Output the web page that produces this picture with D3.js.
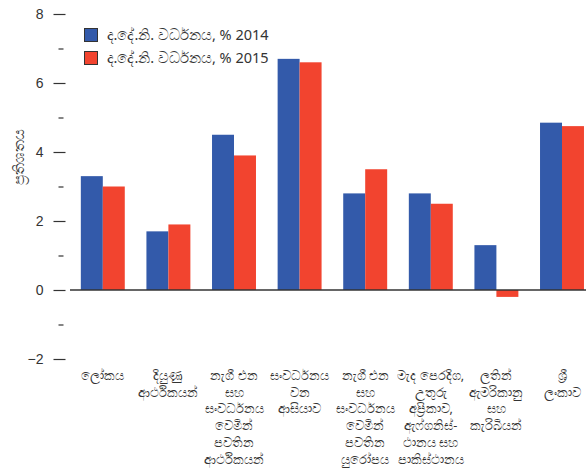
<!DOCTYPE html>
<html>
<head>
<meta charset="utf-8">
<script src="https://cdn.jsdelivr.net/npm/d3@7"></script>
<style>
  body { margin: 0; background: #fff; }
  text { font-family: "Noto Sans", "DejaVu Sans", sans-serif; fill: #333; }
</style>
</head>
<body>
<script>
// categories (each label is split into lines)
var categories = [
    ["ලෝකය"],
    ["දියුණු", "ආර්ථිකයන්"],
    ["නැගී එන", "සහ", "සංවර්ධනය", "වෙමින්", "පවතින", "ආර්ථිකයන්"],
    ["සංවර්ධනය", "වන", "ආසියාව"],
    ["නැගී එන", "සහ", "සංවර්ධනය", "වෙමින්", "පවතින", "යුරෝපය"],
    ["මැද පෙරදිග,", "උතුරු", "අප්‍රිකාව,", "ඇෆ්ගනිස්-", "ථානය සහ", "පාකිස්ථානය"],
    ["ලතින්", "ඇමරිකානු", "සහ", "කැරිබියන්"],
    ["ශ්‍රී", "ලංකාව"]
];
var seriesNames = ["ද.දේ.නි. වර්ධනය, % 2014", "ද.දේ.නි. වර්ධනය, % 2015"];
var growth2014 = [3.3, 1.7, 4.5, 6.7, 2.8, 2.8, 1.3, 4.85];
var growth2015 = [3.0, 1.9, 3.9, 6.6, 3.5, 2.5, -0.2, 4.75];
var yTicks = [-2, 0, 2, 4, 6, 8];
var yMinorTicks = [-1, 1, 3, 5, 7];
var yTitle = "ප්‍රතිශතය";

var colors = ["#335aaa", "#f2442f"];

var svgWidth = 586;
var svgHeight = 468;

var svg = d3.select("body")
    .append("svg")
    .attr("width", svgWidth)
    .attr("height", svgHeight);

// scales
var ylinearscale = d3.scaleLinear()
    .domain([-2, 8])
    .range([359, 14]);

var xband = d3.scaleBand()
    .domain(d3.range(categories.length))
    .range([70, 594.8])
    .paddingInner(0.33)
    .paddingOuter(0.165);

var xinner = d3.scaleBand()
    .domain([0, 1])
    .range([0, xband.bandwidth()]);

// left axis, major ticks
var leftaxis = d3.axisLeft(ylinearscale)
    .tickValues(yTicks)
    .tickSize(12)
    .tickPadding(10);

var yaxis = svg.append("g")
    .attr("transform", "translate(65.5, 0)")
    .call(leftaxis);
yaxis.select(".domain").remove();
yaxis.selectAll(".tick line").attr("stroke", "#333").attr("stroke-width", 1.2);
yaxis.selectAll(".tick text")
    .style("font-size", "14px")
    .style("font-family", "'Liberation Sans', Arial, sans-serif")
    .attr("fill", "#333");

// minor ticks
var minoraxis = d3.axisLeft(ylinearscale)
    .tickValues(yMinorTicks)
    .tickSize(5)
    .tickFormat("");
var yminor = svg.append("g")
    .attr("transform", "translate(63.5, 0)")
    .call(minoraxis);
yminor.select(".domain").remove();
yminor.selectAll(".tick line").attr("stroke", "#333").attr("stroke-width", 1.2);

// y title
svg.append("text")
    .attr("transform", "translate(24, 157) rotate(-90)")
    .attr("text-anchor", "middle")
    .style("font-size", "14.5px")
    .text(yTitle);

// bars
var data = categories.map(function(c, i) {
    return { i: i, values: [growth2014[i], growth2015[i]] };
});

var groups = svg.selectAll(".grp")
    .data(data)
    .enter()
    .append("g")
    .attr("class", "grp")
    .attr("transform", function(d) { return "translate(" + xband(d.i) + ",0)"; });

groups.selectAll("rect")
    .data(function(d) { return d.values.map(function(v, s) { return { s: s, v: v }; }); })
    .enter()
    .append("rect")
    .attr("x", function(d) { return xinner(d.s); })
    .attr("width", xinner.bandwidth())
    .attr("y", function(d) { return ylinearscale(Math.max(0, d.v)); })
    .attr("height", function(d) { return Math.abs(ylinearscale(d.v) - ylinearscale(0)); })
    .attr("fill", function(d) { return colors[d.s]; });

// zero line
svg.append("line")
    .attr("x1", 70)
    .attr("x2", svgWidth)
    .attr("y1", ylinearscale(0))
    .attr("y2", ylinearscale(0))
    .attr("stroke", "#333")
    .attr("stroke-width", 1.5);

// category labels
var labels = svg.selectAll(".xlab")
    .data(categories)
    .enter()
    .append("text")
    .attr("class", "xlab")
    .attr("text-anchor", "middle")
    .style("font-size", "12.5px");

labels.selectAll("tspan")
    .data(function(d, i) { return d.map(function(t) { return { t: t, i: i }; }); })
    .enter()
    .append("tspan")
    .attr("x", function(d) { return xband(d.i) + xband.bandwidth() / 2; })
    .attr("y", function(d, j) { return 380 + j * 16.7; })
    .text(function(d) { return d.t; });

// legend
var legend = svg.selectAll(".leg")
    .data(seriesNames)
    .enter()
    .append("g")
    .attr("class", "leg")
    .attr("transform", function(d, i) { return "translate(84.5," + (28.5 + i * 23) + ")"; });

legend.append("rect")
    .attr("width", 13)
    .attr("height", 13)
    .attr("fill", function(d, i) { return colors[i]; })
    .attr("stroke", "#333")
    .attr("stroke-width", 1);

legend.append("text")
    .attr("x", 22)
    .attr("y", 11)
    .style("font-size", "14.5px")
    .text(function(d) { return d; });
</script>
</body>
</html>
